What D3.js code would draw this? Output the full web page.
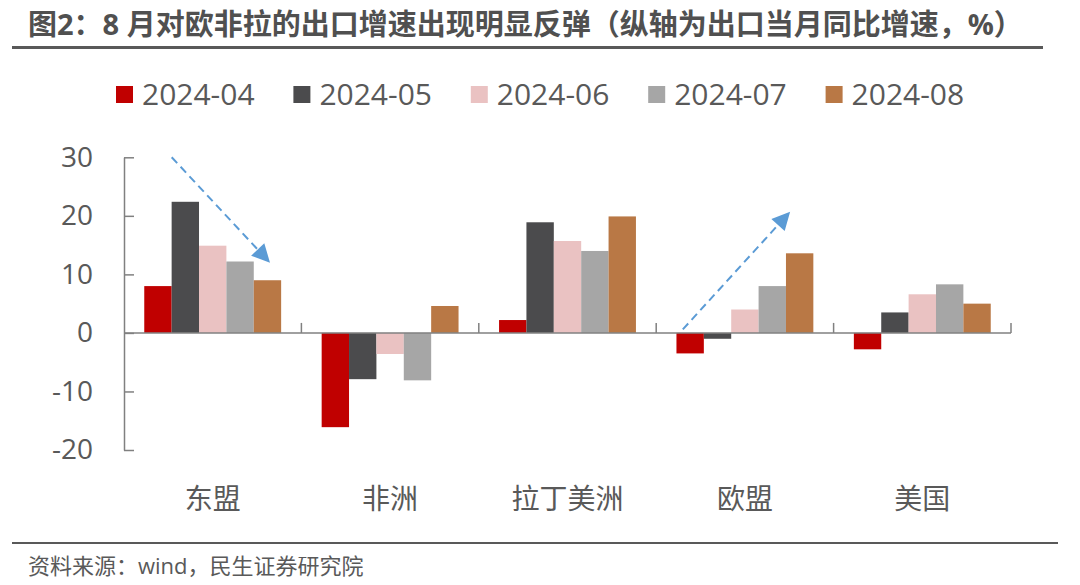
<!DOCTYPE html>
<html><head><meta charset="utf-8">
<script src="https://cdn.jsdelivr.net/npm/d3@7/dist/d3.min.js"></script>
<style>
html,body{margin:0;padding:0;background:#fff;}
text{font-family:"Open Sans","Noto Sans CJK SC",sans-serif;fill:#595959;}
</style></head>
<body>
<svg id="chart" width="1080" height="585"></svg>
<script>
const title = "图2：8 月对欧非拉的出口增速出现明显反弹（纵轴为出口当月同比增速，%）";
const source = "资料来源：wind，民生证券研究院";
const categories = ["东盟", "非洲", "拉丁美洲", "欧盟", "美国"];
const seriesNames = ["2024-04", "2024-05", "2024-06", "2024-07", "2024-08"];
const colors = ["#C00000", "#4B4B4D", "#EAC2C2", "#A6A6A6", "#B97845"];
const s202404 = [8.0, -16.1, 2.2, -3.5, -2.8];
const s202405 = [22.4, -7.9, 18.9, -1.0, 3.5];
const s202406 = [14.9, -3.6, 15.7, 4.0, 6.6];
const s202407 = [12.2, -8.1, 14.0, 8.0, 8.3];
const s202408 = [9.0, 4.6, 19.9, 13.6, 5.0];
const seriesValues = [s202404, s202405, s202406, s202407, s202408];
const yTicks = [-20, -10, 0, 10, 20, 30];
// annotation arrows: category, relative position in group, value
const arrows = [
  {cat: "东盟", x1: 0.269, v1: 30, x2: 0.823, v2: 12},
  {cat: "欧盟", x1: 0.150, v1: 0.6, x2: 0.755, v2: 20.7}
];

(function () {
const svg = d3.select("#chart");
const pLeft = 124, pRight = 1011, pTop = 157.3, pBottom = 450;

const x0 = d3.scaleBand().domain(categories).range([pLeft, pRight]).padding(0);
const x1 = d3.scaleBand().domain(seriesNames).range([0, x0.bandwidth()]).paddingInner(0).paddingOuter(0.74);
const y = d3.scaleLinear().domain([-20, 30]).range([pBottom, pTop]);

// title
svg.append("text").attr("x", 28).attr("y", 35).text(title)
  .style("font-size", "29px").style("font-weight", "bold").style("fill", "#505050");
svg.append("line").attr("x1", 12).attr("x2", 1043).attr("y1", 47.5).attr("y2", 47.5)
  .attr("stroke", "#595959").attr("stroke-width", 3);

// legend
const lg = svg.append("g");
seriesNames.forEach((s, i) => {
  const gx = 116 + i * x0.step();
  lg.append("rect").attr("x", gx).attr("y", 86).attr("width", 17).attr("height", 17).attr("fill", colors[i]);
  lg.append("text").attr("x", gx + 26).attr("y", 94.5).attr("dy", "0.35em").text(s).style("font-size", "30px");
});

// bars
const gBars = svg.append("g");
categories.forEach((c, ci) => {
  seriesNames.forEach((s, si) => {
    const v = seriesValues[si][ci];
    gBars.append("rect")
      .attr("x", x0(c) + x1(s))
      .attr("width", x1.bandwidth())
      .attr("y", y(Math.max(0, v)))
      .attr("height", Math.abs(y(v) - y(0)))
      .attr("fill", colors[si]);
  });
});

// y axis
const yAxis = d3.axisLeft(y).tickValues(yTicks).tickSize(-10).tickSizeOuter(0).tickPadding(31).tickFormat(d => String(d));
const ya = svg.append("g").attr("transform", `translate(${pLeft},0)`).call(yAxis);
ya.selectAll("path,line").attr("stroke", "#808080").attr("stroke-width", 1.5);
ya.selectAll("text").style("font-size", "28px").style("fill", "#595959");

// x axis at zero
svg.append("line").attr("x1", pLeft).attr("x2", pRight).attr("y1", y(0)).attr("y2", y(0))
  .attr("stroke", "#808080").attr("stroke-width", 1.5);
const bounds = categories.map(c => x0(c)).concat([x0(categories[categories.length - 1]) + x0.bandwidth()]);
svg.append("g").selectAll("line").data(bounds.slice(1)).join("line")
  .attr("x1", d => d).attr("x2", d => d).attr("y1", y(0)).attr("y2", y(0) - 10)
  .attr("stroke", "#808080").attr("stroke-width", 1.5);
svg.append("g").selectAll("text").data(categories).join("text")
  .attr("x", d => x0(d) + x0.bandwidth() / 2).attr("y", 499).attr("dy", "0.35em")
  .attr("text-anchor", "middle").text(d => d).style("font-size", "28px");

// arrows
arrows.forEach(a => {
  const xs = x0(a.cat) + a.x1 * x0.bandwidth(), ys = y(a.v1);
  const xe = x0(a.cat) + a.x2 * x0.bandwidth(), ye = y(a.v2);
  const ang = Math.atan2(ye - ys, xe - xs);
  const hl = 18;
  const bx = xe - hl * Math.cos(ang), by = ye - hl * Math.sin(ang);
  svg.append("line").attr("x1", xs).attr("y1", ys).attr("x2", bx).attr("y2", by)
    .attr("stroke", "#5B9BD5").attr("stroke-width", 2).attr("stroke-dasharray", "8,5");
  const hw = 9;
  const px = -Math.sin(ang), py = Math.cos(ang);
  svg.append("path")
    .attr("d", `M${xe},${ye} L${bx + px * hw},${by + py * hw} L${bx - px * hw},${by - py * hw} Z`)
    .attr("fill", "#5B9BD5");
});

// footer
svg.append("line").attr("x1", 12).attr("x2", 1058).attr("y1", 543).attr("y2", 543)
  .attr("stroke", "#595959").attr("stroke-width", 2);
svg.append("text").attr("x", 28).attr("y", 566).attr("dy", "0.35em").text(source).style("font-size", "22px");
})();
</script>
</body></html>
